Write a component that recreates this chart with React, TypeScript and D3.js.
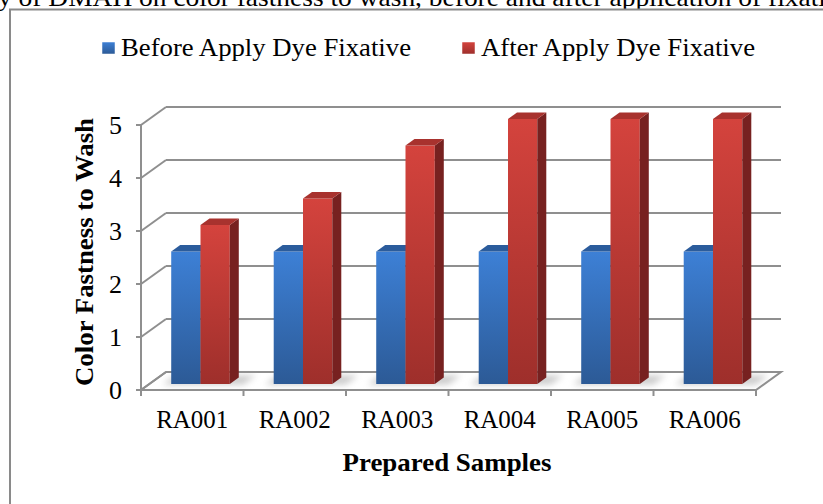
import React from "react";
import * as d3 from "d3";

const categories = ["RA001", "RA002", "RA003", "RA004", "RA005", "RA006"];
const seriesNames = ["Before Apply Dye Fixative", "After Apply Dye Fixative"];
const beforeValues = [2.5, 2.5, 2.5, 2.5, 2.5, 2.5];
const afterValues = [3, 3.5, 4.5, 5, 5, 5];
const yTicks = [0, 1, 2, 3, 4, 5];
const captionText = "y of DMAH on color fastness to wash, before and after application of fixati";

const W = 823;
const H = 504;
const DX = 25;
const DY = -18;
const Z0 = 0.33;
const Z1 = 0.69;

const palette = [
  { front0: "#3d80d6", front1: "#2c5a96", top: "#2b5c9c", side: "#22487a" },
  { front0: "#d4433d", front1: "#9e2f2b", top: "#a8322e", side: "#772120" },
];

export default function App() {
  const x = d3.scaleBand<string>().domain(categories).range([141, 756]).paddingInner(0).paddingOuter(0);
  const inner = d3.scaleBand<string>().domain(seriesNames).range([0, x.bandwidth()]).paddingInner(0).paddingOuter(0.75);
  const y = d3.scaleLinear().domain([0, 5]).range([390, 125]);
  const proj = (px: number, py: number, z: number): [number, number] => [px + z * DX, py + z * DY];
  const pts = (arr: [number, number][]) => arr.map((p) => p.join(",")).join(" ");
  const [xL, xR] = x.range();
  const data = [beforeValues, afterValues];

  const bars: any[] = [];
  const shadows: any[] = [];
  categories.forEach((c, ci) => {
    const gx0 = (x(c) as number) + (inner(seriesNames[0]) as number);
    const gx1 = (x(c) as number) + (inner(seriesNames[1]) as number) + inner.bandwidth();
    const yb = y(0);
    const sh = [proj(gx0 - 8, yb, Z0 - 0.02), proj(gx1 + 14, yb, Z0 - 0.02), proj(gx1 + 14, yb, Z1 + 0.12), proj(gx0 - 8, yb, Z1 + 0.12)];
    shadows.push(<polygon key={`sh-${ci}`} points={pts(sh)} fill="#a0a0a0" opacity={0.55} filter="url(#blur)" />);
    seriesNames.forEach((s, si) => {
      const v = data[si][ci];
      const x0 = (x(c) as number) + (inner(s) as number);
      const x1 = x0 + inner.bandwidth();
      const yt = y(v);
      const col = palette[si];
      const front = [proj(x0, yb, Z0), proj(x1, yb, Z0), proj(x1, yt, Z0), proj(x0, yt, Z0)];
      const top = [proj(x0, yt, Z0), proj(x1, yt, Z0), proj(x1, yt, Z1), proj(x0, yt, Z1)];
      const side = [proj(x1, yt, Z0), proj(x1, yb, Z0), proj(x1, yb, Z1), proj(x1, yt, Z1)];
      bars.push(
        <g key={`b-${ci}-${si}`}>
          <polygon points={pts(front)} fill={`url(#grad${si})`} />
          <polygon points={pts(side)} fill={col.side} />
          <polygon points={pts(top)} fill={col.top} />
        </g>
      );
    });
  });

  const gridColor = "#8f8f8f";

  return (
    <div style={{ position: "absolute", left: 0, top: 0, width: W, height: H, overflow: "hidden", background: "#fff" }}>
      <svg width={W} height={H} style={{ display: "block", fontFamily: "'Liberation Serif', 'Times New Roman', serif" }}>
        <defs>
          {palette.map((p, i) => (
            <linearGradient key={i} id={`grad${i}`} x1="0" y1="0" x2="0" y2="1">
              <stop offset="0%" stopColor={p.front0} />
              <stop offset="100%" stopColor={p.front1} />
            </linearGradient>
          ))}
          <filter id="blur" x="-50%" y="-50%" width="200%" height="200%">
            <feGaussianBlur stdDeviation="3" />
          </filter>
        </defs>
        <rect x={0} y={0} width={W} height={H} fill="#fff" />
        <text x={-2} y={6} fontSize={26} textLength={828} lengthAdjust="spacingAndGlyphs" fill="#000">
          {captionText}
        </text>
        <rect x={10} y={9.5} width={900} height={600} fill="#fff" stroke="#8a8a8a" strokeWidth={2} />

        {/* legend */}
        {seriesNames.map((s, i) => {
          const lx = i === 0 ? 102 : 462;
          return (
            <g key={s}>
              <rect x={lx} y={42} width={13} height={12} fill={`url(#grad${i})`} stroke="#fff" strokeWidth={0.5} />
              <text x={lx + 19} y={56} fontSize={25} textLength={i === 0 ? 290 : 274} lengthAdjust="spacingAndGlyphs" fill="#000">
                {s}
              </text>
            </g>
          );
        })}

        {/* floor */}
        <polygon
          points={pts([proj(xL, y(0), 0), proj(xR, y(0), 0), proj(xR, y(0), 1), proj(xL, y(0), 1)])}
          fill="#fff"
          stroke={gridColor}
          strokeWidth={2}
        />
        {/* back wall grid & left wall diagonals */}
        {yTicks.map((t) => (
          <g key={t}>
            {t > 0 && (
              <line
                x1={proj(xL, y(t), 1)[0]}
                y1={proj(xL, y(t), 1)[1]}
                x2={proj(xR, y(t), 1)[0]}
                y2={proj(xR, y(t), 1)[1]}
                stroke={gridColor}
                strokeWidth={2}
              />
            )}
            <line
              x1={proj(xL, y(t), 0)[0]}
              y1={proj(xL, y(t), 0)[1]}
              x2={proj(xL, y(t), 1)[0]}
              y2={proj(xL, y(t), 1)[1]}
              stroke={gridColor}
              strokeWidth={2}
            />
            <line x1={xL - 5} y1={y(t)} x2={xL} y2={y(t)} stroke={gridColor} strokeWidth={2} />
            <text x={122} y={y(t)} dy="0.35em" fontSize={26} textAnchor="end" fill="#000">
              {t}
            </text>
          </g>
        ))}
        {/* y axis line */}
        <line x1={xL} y1={y(5)} x2={xL} y2={y(0) + 1} stroke={gridColor} strokeWidth={2} />
        {/* x axis ticks */}
        {[...categories.map((c) => x(c) as number), xR].map((tx, i) => (
          <line key={i} x1={tx} y1={y(0)} x2={tx} y2={y(0) + 6} stroke={gridColor} strokeWidth={2} />
        ))}
        {shadows}
        {bars}
        {/* x labels */}
        {categories.map((c) => (
          <text key={c} x={(x(c) as number) + x.bandwidth() / 2} y={428} fontSize={25} textAnchor="middle" fill="#000">
            {c}
          </text>
        ))}
        <text x={447} y={471} fontSize={25} fontWeight="bold" textAnchor="middle" textLength={209} lengthAdjust="spacingAndGlyphs" fill="#000">
          Prepared Samples
        </text>
        <text
          transform={`translate(93,252) rotate(-90)`}
          fontSize={25}
          fontWeight="bold"
          textAnchor="middle"
          textLength={268}
          lengthAdjust="spacingAndGlyphs"
          fill="#000"
        >
          Color Fastness to Wash
        </text>
      </svg>
    </div>
  );
}
